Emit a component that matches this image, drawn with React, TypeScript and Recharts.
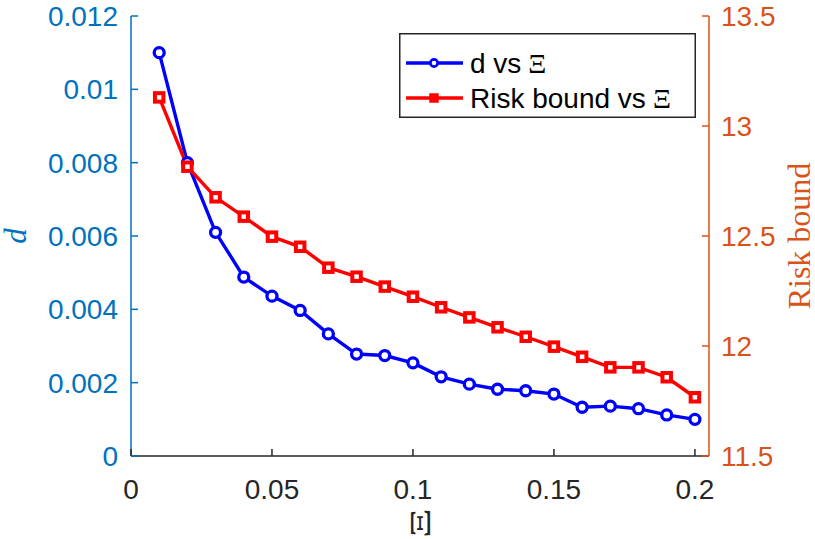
import React from "react";
import {
  ComposedChart,
  Line,
  XAxis,
  YAxis,
  Legend,
} from "recharts";

// Xi values along the x axis
const xiValues = [
  0.01, 0.02, 0.03, 0.04, 0.05, 0.06, 0.07, 0.08, 0.09, 0.1,
  0.11, 0.12, 0.13, 0.14, 0.15, 0.16, 0.17, 0.18, 0.19, 0.2,
];
const dValues = [
  0.011, 0.008, 0.0061, 0.00488, 0.00436, 0.00397, 0.00333, 0.00278, 0.00274, 0.00254,
  0.00216, 0.00196, 0.00182, 0.00178, 0.00169, 0.00133, 0.00136, 0.00129, 0.00112, 0.001,
];
const riskValues = [
  13.13, 12.815, 12.676, 12.588, 12.497, 12.451, 12.356, 12.315, 12.27, 12.224,
  12.176, 12.13, 12.085, 12.042, 11.997, 11.951, 11.903, 11.903, 11.858, 11.767,
];

const xTicks = [0, 0.05, 0.1, 0.15, 0.2];
const leftTicks = [0, 0.002, 0.004, 0.006, 0.008, 0.01, 0.012];
const rightTicks = [11.5, 12, 12.5, 13, 13.5];
const legendOrder = ["d", "risk"];

const rows = xiValues.map((xi, i) => ({ xi, d: dValues[i], risk: riskValues[i] }));

const AXIS_DARK = "#262626";
const LEFT_COLOR = "#0072BD";
const RIGHT_COLOR = "#D95319";
const SANS = "'Liberation Sans', Arial, Helvetica, sans-serif";
const SERIF = "'Liberation Serif', 'Times New Roman', serif";
const TICK_FONT = 28;
const TICK_LEN = 7;
const LINE_W = 3.4;

const BottomTick = (props: any) => {
  const { x, y, payload } = props;
  return (
    <g>
      <line x1={x} x2={x} y1={y} y2={y - TICK_LEN} stroke={AXIS_DARK} strokeWidth={1.5} />
      <text x={x} y={y + 43} textAnchor="middle" fill={AXIS_DARK} fontSize={TICK_FONT} fontFamily={SANS}>
        {String(payload.value)}
      </text>
    </g>
  );
};

const TopTick = (props: any) => {
  const { x, y } = props;
  return <line x1={x} x2={x} y1={y} y2={y + TICK_LEN} stroke={AXIS_DARK} strokeWidth={1.5} />;
};

const LeftTick = (props: any) => {
  const { x, y, payload } = props;
  return (
    <g>
      <line x1={x} x2={x + TICK_LEN} y1={y} y2={y} stroke={LEFT_COLOR} strokeWidth={1.5} />
      <text x={x - 13} y={y} dy="0.36em" textAnchor="end" fill={LEFT_COLOR} fontSize={TICK_FONT} fontFamily={SANS}>
        {String(payload.value)}
      </text>
    </g>
  );
};

const RightTick = (props: any) => {
  const { x, y, payload } = props;
  return (
    <g>
      <line x1={x} x2={x - TICK_LEN} y1={y} y2={y} stroke={RIGHT_COLOR} strokeWidth={1.5} />
      <text x={x + 12} y={y} dy="0.36em" textAnchor="start" fill={RIGHT_COLOR} fontSize={TICK_FONT} fontFamily={SANS}>
        {String(payload.value)}
      </text>
    </g>
  );
};

const CircleDot = (props: any) => {
  const { cx, cy, stroke } = props;
  if (cx == null || cy == null) return null;
  return <circle cx={cx} cy={cy} r={5} fill="#fff" stroke={stroke} strokeWidth={3.3} />;
};

const SquareDot = (props: any) => {
  const { cx, cy, stroke } = props;
  if (cx == null || cy == null) return null;
  const s = 8.5;
  return <rect x={cx - s / 2} y={cy - s / 2} width={s} height={s} fill="#fff" stroke={stroke} strokeWidth={4} />;
};

const LegendBox = (props: any) => {
  const items = [...(props.payload || [])].sort(
    (a: any, b: any) => legendOrder.indexOf(a.dataKey) - legendOrder.indexOf(b.dataKey)
  );
  return (
    <svg width={297} height={85} style={{ display: "block" }}>
      <rect x={0.75} y={0.75} width={295.5} height={83.5} fill="#fff" stroke={AXIS_DARK} strokeWidth={1.5} />
      {items.map((item: any, i: number) => {
        const cy = 30 + i * 35;
        const isCircle = item.dataKey === "d";
        return (
          <g key={item.value}>
            <line x1={7} x2={64} y1={cy} y2={cy} stroke={item.color} strokeWidth={LINE_W} />
            {isCircle ? (
              <circle cx={35} cy={cy} r={3.6} fill="#fff" stroke={item.color} strokeWidth={2.6} />
            ) : (
              <rect x={31.5} y={cy - 3.5} width={7} height={7} fill={item.color} stroke={item.color} strokeWidth={2.5} />
            )}
            <text x={71} y={cy} dy="0.36em" fontSize={TICK_FONT} fontFamily={SANS} fill="#000">
              {item.value}
              <tspan fontFamily={SERIF}> Ξ</tspan>
            </text>
          </g>
        );
      })}
    </svg>
  );
};

export default function App() {
  return (
    <div style={{ position: "absolute", left: 0, top: 0, width: 815, height: 539, background: "#fff" }}>
      <ComposedChart width={815} height={539} data={rows} margin={{ top: 16, right: 0, bottom: 0, left: 0 }}>
        <XAxis
          xAxisId="bottom"
          dataKey="xi"
          type="number"
          domain={[0, 0.205]}
          ticks={xTicks}
          interval={0}
          height={83}
          tickSize={0}
          tickMargin={0}
          tickLine={false}
          stroke={AXIS_DARK}
          strokeWidth={1.5}
          tick={<BottomTick />}
          label={{
            content: (p: any) => {
              const vb = p.viewBox;
              const cx = vb.x + vb.width / 2 + 10;
              const by = 523;
              return (
                <text
                  x={0}
                  y={0}
                  transform={`translate(${cx}, ${by}) rotate(-90) scale(1.55, 1)`}
                  textAnchor="middle"
                  fontSize={30}
                  fontFamily={SERIF}
                  fill={AXIS_DARK}
                >
                  Ξ
                </text>
              );
            },
          }}
        />
        <XAxis
          xAxisId="top"
          orientation="top"
          dataKey="xi"
          type="number"
          domain={[0, 0.205]}
          ticks={xTicks}
          interval={0}
          height={0}
          tickSize={0}
          tickMargin={0}
          tickLine={false}
          stroke={AXIS_DARK}
          strokeWidth={1.5}
          tick={<TopTick />}
        />
        <YAxis
          yAxisId="left"
          orientation="left"
          domain={[0, 0.012]}
          ticks={leftTicks}
          interval={0}
          width={131}
          tickSize={0}
          tickMargin={0}
          tickLine={false}
          stroke={LEFT_COLOR}
          strokeWidth={1.5}
          tick={<LeftTick />}
          label={{
            content: (p: any) => {
              const vb = p.viewBox;
              const cy = vb.y + vb.height / 2;
              const bx = 26;
              return (
                <text
                  x={bx}
                  y={cy}
                  transform={`rotate(-90, ${bx}, ${cy})`}
                  textAnchor="middle"
                  fontSize={31}
                  fontStyle="italic"
                  fontFamily={SERIF}
                  fill={LEFT_COLOR}
                >
                  d
                </text>
              );
            },
          }}
        />
        <YAxis
          yAxisId="right"
          orientation="right"
          domain={[11.5, 13.5]}
          ticks={rightTicks}
          interval={0}
          width={106}
          tickSize={0}
          tickMargin={0}
          tickLine={false}
          stroke={RIGHT_COLOR}
          strokeWidth={1.5}
          tick={<RightTick />}
          label={{
            content: (p: any) => {
              const vb = p.viewBox;
              const cy = vb.y + vb.height / 2;
              const bx = 810;
              return (
                <text
                  x={bx}
                  y={cy}
                  transform={`rotate(-90, ${bx}, ${cy})`}
                  textAnchor="middle"
                  fontSize={32}
                  fontFamily={SERIF}
                  fill={RIGHT_COLOR}
                >
                  Risk bound
                </text>
              );
            },
          }}
        />
        <Legend
          layout="vertical"
          align="center"
          verticalAlign="middle"
          wrapperStyle={{ position: "absolute", left: 399, top: 33, width: 297, height: 85 }}
          content={<LegendBox />}
        />
        <Line
          xAxisId="bottom"
          yAxisId="left"
          dataKey="d"
          name="d vs"
          stroke="#0000FF"
          strokeWidth={LINE_W}
          dot={<CircleDot />}
          activeDot={false}
          isAnimationActive={false}
        />
        <Line
          xAxisId="bottom"
          yAxisId="right"
          dataKey="risk"
          name="Risk bound vs"
          stroke="#FF0000"
          strokeWidth={LINE_W}
          dot={<SquareDot />}
          activeDot={false}
          isAnimationActive={false}
        />
      </ComposedChart>
    </div>
  );
}
